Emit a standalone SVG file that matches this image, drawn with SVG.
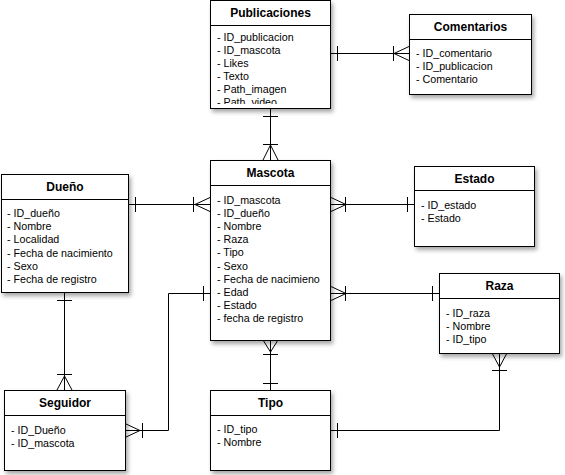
<svg xmlns="http://www.w3.org/2000/svg" width="565" height="475" viewBox="0 0 565 475">
<style>
.box{fill:#fff;stroke:#000;stroke-width:1}
.sep{stroke:#000;stroke-width:1}
.t{font-family:"Liberation Sans",Arial,sans-serif;font-size:12px;font-weight:bold;text-anchor:middle;fill:#000}
.a{font-family:"Liberation Sans",Arial,sans-serif;font-size:10.7px;fill:#000}
.c{fill:none;stroke:#000;stroke-width:1}
</style>
<defs>
<filter id="sh" x="-10%" y="-10%" width="130%" height="130%">
<feDropShadow dx="2" dy="3" stdDeviation="2" flood-color="#000" flood-opacity="0.35"/>
</filter>
<clipPath id="pubclip"><rect x="210" y="26" width="121" height="78"/></clipPath>
</defs>
<rect width="565" height="475" fill="#fff"/>
<g id="connectors" class="c">
<!-- Publicaciones - Comentarios -->
<path d="M330,53.5 H409"/>
<path d="M337.5,46 V61 M393.5,46 V61"/>
<path d="M409,46.5 L394,53.5 L409,60.5"/>
<!-- Publicaciones - Mascota -->
<path d="M270.5,108 V160"/>
<path d="M263,116.5 H278 M263,144.5 H278"/>
<path d="M263,160 L270.5,145 L278,160"/>
<!-- Dueño - Mascota -->
<path d="M128,204.5 H210"/>
<path d="M135.5,197 V212 M193.5,197 V212"/>
<path d="M210,197.5 L195,204.5 L210,211.5"/>
<!-- Mascota - Estado -->
<path d="M331,204.5 H414"/>
<path d="M331,197.5 L346,204.5 L331,211.5"/>
<path d="M345.5,197 V212 M407.5,197 V212"/>
<!-- Mascota - Raza -->
<path d="M331,293.5 H439"/>
<path d="M331,286.5 L346,293.5 L331,300.5"/>
<path d="M345.5,286 V301 M432.5,286 V301"/>
<!-- Mascota - Tipo -->
<path d="M270.5,340 V390"/>
<path d="M263,340 L270.5,352 L278,340"/>
<path d="M263,354.5 H278 M263,383.5 H278"/>
<!-- Raza - Tipo -->
<path d="M499.5,353 V430.5 H331"/>
<path d="M492,353 L499.5,367 L507,353"/>
<path d="M492,370.5 H507 M337.5,423 V438"/>
<!-- Dueño - Seguidor -->
<path d="M64.5,292 V390"/>
<path d="M57,300.5 H72 M57,374.5 H72"/>
<path d="M57,390 L64.5,376 L72,390"/>
<!-- Seguidor - Mascota -->
<path d="M125,430.5 H168.5 V293.5 H210"/>
<path d="M125,423.5 L140,430.5 L125,437.5"/>
<path d="M142.5,423 V438 M203.5,286 V301"/>
</g>
<g id="publicaciones">
<rect class="box" x="210.5" y="0.5" width="120" height="108" filter="url(#sh)"/>
<line class="sep" x1="210.5" y1="25.5" x2="330.5" y2="25.5"/>
<text class="t" x="270.5" y="17">Publicaciones</text>
<g clip-path="url(#pubclip)">
<text class="a" x="217" y="41">- ID_publicacion</text>
<text class="a" x="217" y="54">- ID_mascota</text>
<text class="a" x="217" y="67">- Likes</text>
<text class="a" x="217" y="80">- Texto</text>
<text class="a" x="217" y="93">- Path_imagen</text>
<text class="a" x="217" y="106">- Path_video</text>
</g>
</g>
<g id="comentarios">
<rect class="box" x="409.5" y="14.5" width="122" height="80" filter="url(#sh)"/>
<line class="sep" x1="409.5" y1="39.5" x2="531.5" y2="39.5"/>
<text class="t" x="470.5" y="31">Comentarios</text>
<text class="a" x="416" y="57">- ID_comentario</text>
<text class="a" x="416" y="70">- ID_publicacion</text>
<text class="a" x="416" y="83">- Comentario</text>
</g>
<g id="dueno">
<rect class="box" x="1.5" y="174.5" width="127" height="118" filter="url(#sh)"/>
<line class="sep" x1="1.5" y1="199.5" x2="128.5" y2="199.5"/>
<text class="t" x="65" y="191">Dueño</text>
<text class="a" x="7" y="217">- ID_dueño</text>
<text class="a" x="7" y="230.2">- Nombre</text>
<text class="a" x="7" y="243.4">- Localidad</text>
<text class="a" x="7" y="256.6">- Fecha de nacimiento</text>
<text class="a" x="7" y="269.8">- Sexo</text>
<text class="a" x="7" y="283">- Fecha de registro</text>
</g>
<g id="mascota">
<rect class="box" x="210.5" y="160.5" width="120" height="180" filter="url(#sh)"/>
<line class="sep" x1="210.5" y1="185.5" x2="330.5" y2="185.5"/>
<text class="t" x="270.5" y="177">Mascota</text>
<text class="a" x="217" y="204">- ID_mascota</text>
<text class="a" x="217" y="217.1">- ID_dueño</text>
<text class="a" x="217" y="230.2">- Nombre</text>
<text class="a" x="217" y="243.3">- Raza</text>
<text class="a" x="217" y="256.4">- Tipo</text>
<text class="a" x="217" y="269.5">- Sexo</text>
<text class="a" x="217" y="282.6">- Fecha de nacimieno</text>
<text class="a" x="217" y="295.7">- Edad</text>
<text class="a" x="217" y="308.8">- Estado</text>
<text class="a" x="217" y="321.9">- fecha de registro</text>
</g>
<g id="estado">
<rect class="box" x="414.5" y="166.5" width="120" height="80" filter="url(#sh)"/>
<line class="sep" x1="414.5" y1="190.5" x2="534.5" y2="190.5"/>
<text class="t" x="474.5" y="183">Estado</text>
<text class="a" x="421" y="209">- ID_estado</text>
<text class="a" x="421" y="222">- Estado</text>
</g>
<g id="raza">
<rect class="box" x="439.5" y="273.5" width="120" height="80" filter="url(#sh)"/>
<line class="sep" x1="439.5" y1="298.5" x2="559.5" y2="298.5"/>
<text class="t" x="499.5" y="290">Raza</text>
<text class="a" x="446" y="317">- ID_raza</text>
<text class="a" x="446" y="330">- Nombre</text>
<text class="a" x="446" y="343">- ID_tipo</text>
</g>
<g id="tipo">
<rect class="box" x="210.5" y="390.5" width="120" height="80" filter="url(#sh)"/>
<line class="sep" x1="210.5" y1="415.5" x2="330.5" y2="415.5"/>
<text class="t" x="270.5" y="407">Tipo</text>
<text class="a" x="217" y="433">- ID_tipo</text>
<text class="a" x="217" y="446">- Nombre</text>
</g>
<g id="seguidor">
<rect class="box" x="4.5" y="390.5" width="121" height="80" filter="url(#sh)"/>
<line class="sep" x1="4.5" y1="415.5" x2="125.5" y2="415.5"/>
<text class="t" x="65" y="407">Seguidor</text>
<text class="a" x="11" y="434">- ID_Dueño</text>
<text class="a" x="11" y="447">- ID_mascota</text>
</g>
</svg>
